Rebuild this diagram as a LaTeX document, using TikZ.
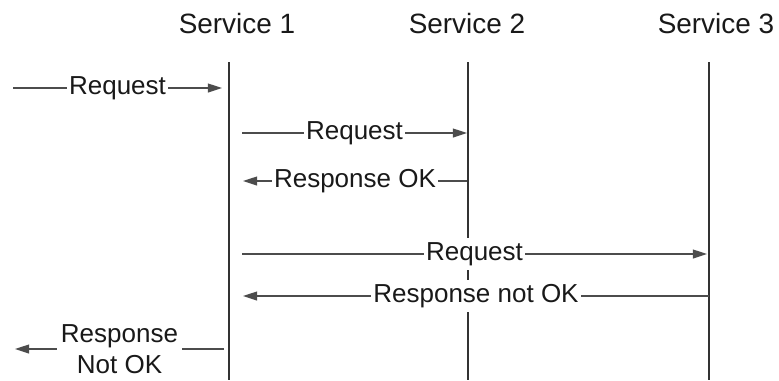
\documentclass[tikz,border=0pt]{standalone}
\usepackage{xcolor}
\usepackage{tikz}
\usepackage{fontspec}
\setmainfont{Liberation Sans}
\usetikzlibrary{arrows.meta}

\begin{document}
\begin{tikzpicture}[x=0.02cm, y=-0.02cm,
    >={Triangle[length=8pt, width=5pt]},
    title/.style={anchor=base, text=black!90, font=\fontsize{15.9}{19}\selectfont},
    life/.style={draw=black!80, line width=1.1pt},
    msg/.style={->, draw=black!70, line width=0.8pt},
    lbl/.style={fill=white, text=black!90, inner xsep=1.2pt, inner ysep=2.5pt, font=\fontsize{14.8}{17.9}\selectfont}]
    \useasboundingbox (0,0) rectangle (779,380);

    % Services
    \node[title] (s1) at (237,33) {Service 1};
    \node[title] (s2) at (467,33) {Service 2};
    \node[title] (s3) at (716,33) {Service 3};

    % Lifelines
    \coordinate (s1top) at (229,62);
    \coordinate (s1end) at (229,380);
    \coordinate (s2top) at (468,62);
    \coordinate (s2end) at (468,380);
    \coordinate (s3top) at (709,62);
    \coordinate (s3end) at (709,380);
    \draw[life] (s1top) -- (s1end);
    \draw[life] (s2top) -- (s2end);
    \draw[life] (s3top) -- (s3end);

    % Incoming request
    \coordinate (caller) at (13,88);
    \coordinate (s1in) at (222,88);
    \draw[msg] (caller) -- node[lbl] {Request} (s1in);

    % Service 2
    \coordinate (s1req2) at (242,133);
    \coordinate (s2req) at (467,133);
    \draw[msg] (s1req2) -- node[lbl] {Request} (s2req);
    \coordinate (s2resp) at (467,181);
    \coordinate (s1resp2) at (243,181);
    \draw[msg] (s2resp) -- node[lbl] {Response OK} (s1resp2);

    % Service 3
    \coordinate (s1req3) at (242,254);
    \coordinate (s3req) at (707,254);
    \draw[msg] (s1req3) -- node[lbl] {Request} (s3req);
    \coordinate (s3resp) at (709,296);
    \coordinate (s1resp3) at (243,296);
    \draw[msg] (s3resp) -- node[lbl] {Response not OK} (s1resp3);

    % Outgoing response
    \coordinate (s1out) at (224,349);
    \coordinate (callerback) at (15,349);
    \draw[msg] (s1out) -- node[lbl, align=center, inner xsep=2pt] {Response\\Not OK} (callerback);
\end{tikzpicture}
\end{document}
